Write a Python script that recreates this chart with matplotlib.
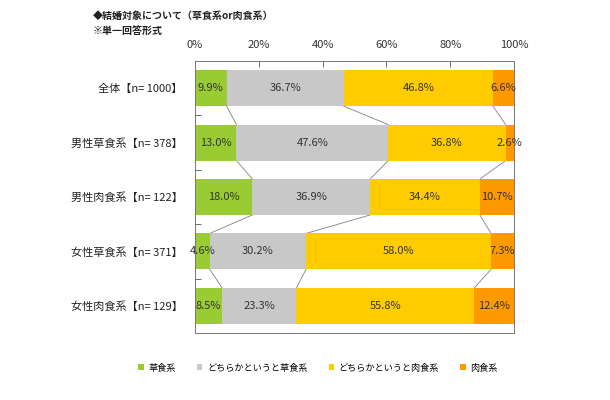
import matplotlib
matplotlib.use("Agg")
import matplotlib.pyplot as plt
import numpy as np
from matplotlib.patches import Patch

plt.rcParams['font.family'] = ['Noto Sans CJK JP', 'DejaVu Sans']

categories = ["全体【n= 1000】", "男性草食系【n= 378】", "男性肉食系【n= 122】",
              "女性草食系【n= 371】", "女性肉食系【n= 129】"]
series_names = ["草食系", "どちらかというと草食系", "どちらかというと肉食系", "肉食系"]
herbivore = [9.9, 13.0, 18.0, 4.6, 8.5]
rather_herb = [36.7, 47.6, 36.9, 30.2, 23.3]
rather_carn = [46.8, 36.8, 34.4, 58.0, 55.8]
carnivore = [6.6, 2.6, 10.7, 7.3, 12.4]
colors = ["#99CC33", "#C8C8C8", "#FFCC00", "#FF9900"]
xticks = [0, 20, 40, 60, 80, 100]
xticklabels = ["0%", "20%", "40%", "60%", "80%", "100%"]

data = np.array([herbivore, rather_herb, rather_carn, carnivore])

fig = plt.figure(figsize=(6.1, 4.0), dpi=100)
ax = fig.add_axes([195/610, 1-333/400, (514-195)/610, (333-61)/400])

y = np.arange(len(categories))
bh = 0.66
left = np.zeros(len(categories))
for i in range(4):
    ax.barh(y, data[i], left=left, height=bh, color=colors[i], edgecolor='none', zorder=2)
    for j in range(len(categories)):
        ax.text(left[j] + data[i][j] / 2, y[j], f"{data[i][j]:.1f}%", ha='center', va='center',
                fontsize=8, color='#333333', zorder=4)
    left = left + data[i]

cum = np.cumsum(data, axis=0)
for b in range(3):
    for j in range(len(categories) - 1):
        ax.plot([cum[b][j], cum[b][j + 1]], [y[j] + bh / 2, y[j + 1] - bh / 2],
                color='#808080', lw=0.6, zorder=1)

ax.set_xlim(0, 100)
ax.set_ylim(len(categories) - 0.5, -0.5)
ax.xaxis.tick_top()
ax.set_xticks(xticks)
ax.set_xticklabels(xticklabels, fontsize=8, color='#333333')
ax.tick_params(axis='x', direction='in', length=4, width=0.6, color='#555555', pad=8)
ax.set_yticks(y)
ax.set_yticklabels(categories, fontsize=8, color='#222222')
ax.tick_params(axis='y', which='major', length=0, pad=9)
ax.set_yticks(np.arange(0.5, len(categories) - 0.5, 1), minor=True)
ax.tick_params(axis='y', which='minor', direction='in', length=4, width=0.6, color='#555555')
for s in ax.spines.values():
    s.set_color('#777777')
    s.set_linewidth(0.7)

fig.text(93/610, 1-16/400, "◆結婚対象について（草食系or肉食系）", fontsize=7.2, fontweight='bold',
         color='#222222', va='center', ha='left')
fig.text(93/610, 1-31/400, "※単一回答形式", fontsize=7.2, fontweight='bold',
         color='#222222', va='center', ha='left')

handles = [Patch(facecolor=c, edgecolor='none') for c in colors]
fig.legend(handles, series_names, loc='center', bbox_to_anchor=(318/610, 1-368/400), ncol=4,
           frameon=False, fontsize=6.6, handlelength=0.6, handleheight=0.6, handletextpad=0.5,
           columnspacing=2.3)

fig.savefig("out.png", dpi=100)
